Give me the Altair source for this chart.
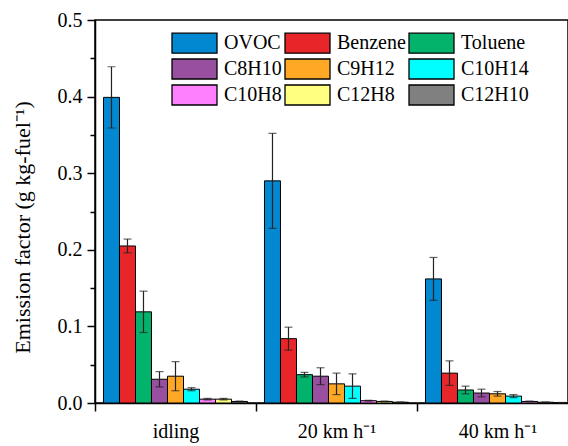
import altair as alt
import pandas as pd

groups = ["idling", "20 km h\u207b\u00b9", "40 km h\u207b\u00b9"]
species = ["OVOC", "Benzene", "Toluene", "C8H10", "C9H12", "C10H14", "C10H8", "C12H8", "C12H10"]
colors = ["#0288D1", "#E8262A", "#03B36B", "#984FA0", "#FFA826", "#00FFFF", "#FF80FF", "#FFFF80", "#808080"]

idling_mean = [0.399, 0.205, 0.119, 0.031, 0.035, 0.018, 0.005, 0.005, 0.002]
idling_err = [0.040, 0.009, 0.027, 0.010, 0.019, 0.002, 0.001, 0.001, 0.0005]
kmh20_mean = [0.290, 0.084, 0.037, 0.035, 0.025, 0.022, 0.003, 0.002, 0.001]
kmh20_err = [0.062, 0.015, 0.003, 0.011, 0.014, 0.016, 0.0005, 0.0005, 0.0003]
kmh40_mean = [0.162, 0.039, 0.017, 0.013, 0.012, 0.009, 0.002, 0.001, 0.0005]
kmh40_err = [0.028, 0.016, 0.005, 0.005, 0.003, 0.002, 0.0005, 0.0003, 0.0002]

rows = []
for g, means, errs in zip(groups, [idling_mean, kmh20_mean, kmh40_mean], [idling_err, kmh20_err, kmh40_err]):
    for s, m, e in zip(species, means, errs):
        rows.append({"group": g, "species": s, "mean": m, "lo": m - e, "hi": m + e})
df = pd.DataFrame(rows)

FONT = "Liberation Serif, Times New Roman, serif"
TITLE = "Emission factor (g kg-fuel\u207b\u00b9)"

x_scale = alt.Scale(range=[0, 483], paddingInner=0, paddingOuter=0)
x_enc = alt.X(
    "group:N", sort=groups, title=None, scale=x_scale,
    axis=alt.Axis(labelAngle=0, labelFont=FONT, labelFontSize=20, labelColor="black",
                  labelPadding=10, tickBand="extent", tickSize=8, tickWidth=1.5,
                  tickColor="black", domainColor="black", domainWidth=1.5),
)
xo_enc = alt.XOffset("species:N", sort=species,
                     scale=alt.Scale(paddingInner=0, paddingOuter=0.53))
y_scale = alt.Scale(domain=[0, 0.5], nice=False, zero=True)
y_axis = alt.Axis(
    values=[round(i * 0.05, 2) for i in range(11)],
    labelExpr="round(datum.value*20) % 2 == 0 ? format(datum.value, '.1f') : ''",
    tickSize={"condition": {"test": "round(datum.value*20) % 2 == 0", "value": 8}, "value": 5},
    tickWidth=1.5, tickColor="black", domainColor="black", domainWidth=1.5,
    labelFont=FONT, labelFontSize=20, labelColor="black", labelPadding=5,
    titleFont=FONT, titleFontSize=22, titleFontWeight="normal", titleColor="black",
    titleX=-73, titleY=207, titleBaseline="middle", titleAlign="center", titleAngle=270,
    grid=False,
)

bars = alt.Chart(df).mark_bar(stroke="black", strokeWidth=1).encode(
    x=x_enc, xOffset=xo_enc,
    y=alt.Y("mean:Q", scale=y_scale, title=TITLE, axis=y_axis),
    color=alt.Color(
        "species:N", sort=species,
        scale=alt.Scale(domain=species, range=colors),
        legend=alt.Legend(
            title=None, orient="none", legendX=76, legendY=12, columns=3,
            direction="horizontal", padding=0,
            symbolType="M-1,-1L3.5,-1L3.5,1L-1,1Z", symbolSize=400,
            symbolStrokeColor="black", symbolStrokeWidth=1.3, symbolOpacity=1,
            labelFont=FONT, labelFontSize=20, labelColor="black", labelOffset=31,
            columnPadding=0, rowPadding=0, labelLimit=300,
        ),
    ),
)

rules = alt.Chart(df).mark_rule(color="#222222", strokeWidth=1.2).encode(
    x=alt.X("group:N", sort=groups, axis=None), xOffset=xo_enc,
    y=alt.Y("lo:Q", scale=y_scale, title=TITLE, axis=y_axis), y2="hi:Q",
)
caps_lo = alt.Chart(df).mark_tick(color="#222222", thickness=1.2, size=8).encode(
    x=alt.X("group:N", sort=groups, axis=None), xOffset=xo_enc,
    y=alt.Y("lo:Q", scale=y_scale, title=TITLE, axis=y_axis),
)
caps_hi = alt.Chart(df).mark_tick(color="#222222", thickness=1.2, size=8).encode(
    x=alt.X("group:N", sort=groups, axis=None), xOffset=xo_enc,
    y=alt.Y("hi:Q", scale=y_scale, title=TITLE, axis=y_axis),
)

chart = alt.layer(bars, rules, caps_lo, caps_hi).resolve_axis(
    x="independent"
).properties(
    width=473, height=383,
    autosize=alt.AutoSizeParams(type="none"),
    padding={"left": 95, "top": 20, "right": 0, "bottom": 43},
    background="white",
).configure_view(stroke="black", strokeWidth=1.5)

chart.save("out.html", embed_options={"renderer": "svg", "actions": False})
